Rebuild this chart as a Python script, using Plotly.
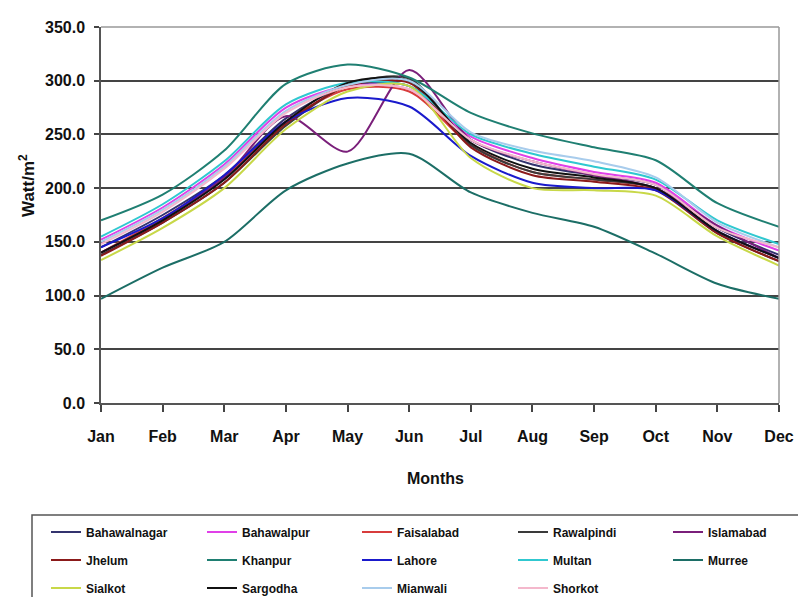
import plotly.graph_objects as go

months = ["Jan", "Feb", "Mar", "Apr", "May", "Jun", "Jul", "Aug", "Sep", "Oct", "Nov", "Dec"]

bahawalnagar = [145, 175, 212, 265, 295, 295, 245, 222, 212, 203, 163, 138]
bahawalpur   = [152, 182, 222, 275, 295, 292, 248, 228, 215, 205, 165, 142]
faisalabad   = [140, 172, 210, 262, 292, 290, 240, 215, 208, 200, 160, 135]
rawalpindi   = [138, 168, 205, 258, 296, 302, 240, 215, 208, 200, 158, 132]
islamabad    = [140, 170, 210, 267, 234, 310, 245, 225, 212, 200, 165, 135]
jhelum       = [137, 168, 205, 260, 295, 298, 238, 212, 206, 198, 158, 132]
khanpur      = [170, 194, 235, 297, 315, 303, 270, 251, 238, 226, 186, 164]
lahore       = [145, 172, 212, 262, 284, 276, 230, 205, 200, 198, 160, 135]
multan       = [155, 185, 225, 278, 298, 295, 250, 232, 220, 208, 170, 148]
murree       = [97, 126, 150, 198, 223, 232, 196, 177, 164, 139, 111, 97]
sialkot      = [133, 163, 200, 255, 290, 295, 228, 200, 198, 193, 155, 128]
sargodha     = [140, 170, 208, 262, 298, 300, 242, 218, 210, 200, 160, 135]
mianwali     = [150, 180, 220, 272, 296, 300, 252, 235, 225, 210, 168, 145]
shorkot      = [148, 178, 218, 270, 294, 292, 245, 225, 213, 203, 163, 145]

y_ticks = [0, 50, 100, 150, 200, 250, 300, 350]

series = [
    ("Bahawalnagar", bahawalnagar, "#33336e"),
    ("Bahawalpur", bahawalpur, "#e040e8"),
    ("Faisalabad", faisalabad, "#d83c3c"),
    ("Rawalpindi", rawalpindi, "#3a3a3a"),
    ("Islamabad", islamabad, "#7a1f7a"),
    ("Jhelum", jhelum, "#8b1a1a"),
    ("Khanpur", khanpur, "#1f7f72"),
    ("Lahore", lahore, "#1a1acc"),
    ("Multan", multan, "#30c8d0"),
    ("Murree", murree, "#1c6e66"),
    ("Sialkot", sialkot, "#c8d848"),
    ("Sargodha", sargodha, "#111111"),
    ("Mianwali", mianwali, "#a8ccec"),
    ("Shorkot", shorkot, "#f4b8cc"),
]

W, H = 798, 597
L, R, T, B = 101, 779, 27, 403
FAM = "Liberation Sans, Arial, sans-serif"


def px_x(p):
    return (p - L) / (R - L)


def px_y(p):
    return (B - p) / (B - T)


fig = go.Figure()
legend_layouts = {}
col_x = [46, 202, 357, 513, 668]
row_y = [532, 560, 588]
for i, (name, vals, col) in enumerate(series):
    lname = "legend" if i == 0 else f"legend{i+1}"
    fig.add_trace(go.Scatter(
        x=months, y=vals, name=name, mode="lines",
        line=dict(color=col, width=2, shape="spline", smoothing=0.8),
        legend=lname,
    ))
    r, c = divmod(i, 5)
    legend_layouts[lname] = dict(
        x=col_x[c] / W, y=1 - row_y[r] / H,
        xref="container", yref="container",
        xanchor="left", yanchor="middle",
        orientation="h", bgcolor="rgba(0,0,0,0)", borderwidth=0,
        font=dict(family=FAM, size=12, color="#111", weight="bold"),
    )

fig.update_layout(
    template="none",
    width=W, height=H,
    margin=dict(l=L, r=W - R, t=T, b=H - B, autoexpand=False),
    paper_bgcolor="white", plot_bgcolor="white",
    showlegend=True,
    font=dict(family=FAM, color="#111", weight="bold"),
    **legend_layouts,
)

fig.update_xaxes(
    type="category", range=[0, 11], automargin=False,
    showgrid=False, showline=True, linecolor="#555", linewidth=1.5,
    ticks="outside", ticklen=7, tickcolor="#444", tickwidth=1.5,
    tickfont=dict(size=16, family=FAM, color="#111", weight="bold"),
    ticklabelstandoff=11,
)
fig.update_yaxes(
    range=[0, 350], tickvals=y_ticks, tickformat=".1f", automargin=False,
    showgrid=True, gridcolor="#444", gridwidth=1.5,
    showline=True, linecolor="#555", linewidth=1.5,
    ticks="outside", ticklen=5, tickcolor="#444", tickwidth=1.5,
    tickfont=dict(size=16, family=FAM, color="#111", weight="bold"),
    ticklabelstandoff=6, zeroline=False,
)

# axis titles
fig.add_annotation(text="Months", xref="paper", yref="paper",
                   x=px_x(435), y=px_y(478), xanchor="center", yanchor="middle",
                   showarrow=False, font=dict(size=16, family=FAM, color="#111", weight="bold"))
fig.add_annotation(text="Watt/m<sup>2</sup>", xref="paper", yref="paper",
                   x=px_x(27), y=px_y(186), textangle=-90, xanchor="center", yanchor="middle",
                   showarrow=False, font=dict(size=17, family=FAM, color="#111", weight="bold"))

# plot border (top, right) and legend box
fig.add_shape(type="line", xref="paper", yref="paper", x0=0, x1=1, y0=1, y1=1,
              line=dict(color="#999", width=1.5), layer="above")
fig.add_shape(type="line", xref="paper", yref="paper", x0=1, x1=1, y0=0, y1=1,
              line=dict(color="#999", width=1.5), layer="above")
fig.add_shape(type="rect", xref="paper", yref="paper",
              x0=px_x(32), x1=px_x(812),
              y0=px_y(515), y1=px_y(615),
              line=dict(color="#555", width=1.5))

fig.write_html(
    "out.html",
    config={"displayModeBar": False},
    post_script="document.body.style.margin='0';document.body.style.overflow='hidden';",
)
